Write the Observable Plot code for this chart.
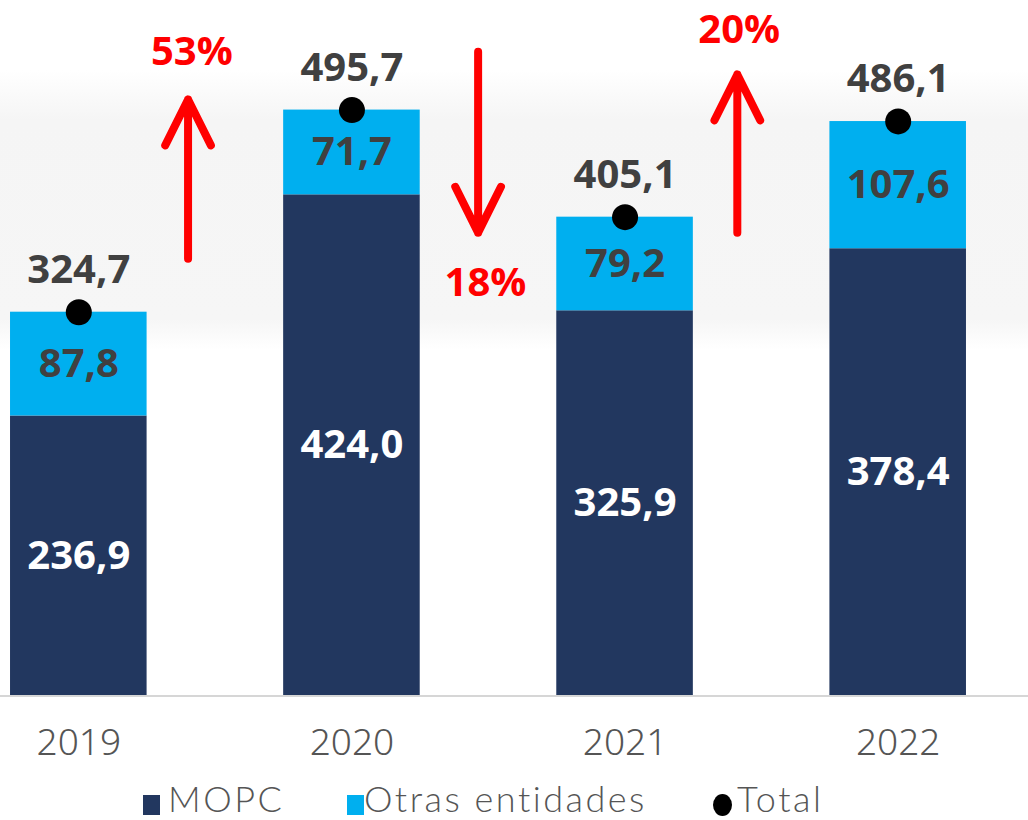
<!DOCTYPE html>
<html>
<head>
<meta charset="utf-8">
<script src="https://cdn.jsdelivr.net/npm/d3@7"></script>
<script src="https://cdn.jsdelivr.net/npm/@observablehq/plot@0.6"></script>
<style>
  html, body { margin: 0; padding: 0; width: 1028px; height: 820px; overflow: hidden; }
  body {
    position: relative;
    font-family: "Open Sans", Lato, sans-serif;
    background: linear-gradient(to bottom, #ffffff 0px, #ffffff 70px, #f5f5f5 120px, #f6f6f6 320px, #ffffff 350px, #ffffff 820px);
  }
  #chart { position: absolute; left: 0; top: 0; }
  #legend { position: absolute; left: 0; top: 777px; width: 1028px; height: 42px; }
  .item { position: absolute; top: 0; height: 42px; line-height: 42px; font-family: Lato, "Open Sans", sans-serif; font-size: 36px; letter-spacing: 2.5px; font-weight: 300; color: #555; white-space: nowrap; }
  .sw { position: absolute; }
</style>
</head>
<body>
<div id="chart"></div>
<div id="legend"></div>
<script>
// ---- data ----
const years = [2019, 2020, 2021, 2022];
const mopc = [236.9, 424.0, 325.9, 378.4];
const otras = [87.8, 71.7, 79.2, 107.6];
const totals = [324.7, 495.7, 405.1, 486.1];

// growth annotations (between years)
const changeLabels = ["53%", "18%", "20%"];
const arrowX = [2019.40, 2020.462, 2021.411];
const arrowFrom = [370, 545, 392];
const arrowTo = [504.6, 392, 525.8];
const changeLabelX = [2019.414, 2020.489, 2021.418];
const changeLabelY = [545, 349, 563];

const seriesNames = ["MOPC", "Otras entidades", "Total"];
const colors = {MOPC: "#22375F", "Otras entidades": "#00AFEF", Total: "#000000"};

// ---- tables ----
const rows = years.map((year, i) => ({year, mopc: mopc[i], otras: otras[i], total: totals[i]}));
const arrows = changeLabels.map((label, i) => ({label, x: arrowX[i], y1: arrowFrom[i], y2: arrowTo[i], lx: changeLabelX[i], ly: changeLabelY[i]}));

const fmt = v => v.toFixed(1).replace(".", ",");
const W = 1028, H = 777, baseY = 695.5, pxPerUnit = 1.182;
const half = 0.25;
const numStyle = {fontSize: 40, fontWeight: "bold", fontFamily: "Open Sans", letterSpacing: "2px"};

const chart = Plot.plot({
  width: W,
  height: H,
  marginTop: 0,
  marginBottom: H - baseY,
  marginLeft: 0,
  marginRight: 0,
  style: {background: "transparent", overflow: "visible"},
  x: {type: "linear", domain: [2019 - 78.3 / 273.1, 2022 + (W - 897.7) / 273.1], axis: null},
  y: {domain: [0, baseY / pxPerUnit], axis: null},
  marks: [
    Plot.rectY(rows, {x1: d => d.year - half, x2: d => d.year + half, y1: 0, y2: "mopc", fill: colors.MOPC}),
    Plot.rectY(rows, {x1: d => d.year - half, x2: d => d.year + half, y1: "mopc", y2: d => d.mopc + d.otras, fill: colors["Otras entidades"]}),
    Plot.ruleY([0], {stroke: "#d6d6d6", strokeWidth: 2}),
    Plot.axisX({ticks: years, tickFormat: d => String(d), tickSize: 0, tickPadding: 33, fontSize: 37, fontWeight: 300, fill: "#555", label: null}),
    Plot.text(rows, {x: "year", y: d => d.mopc / 2, text: d => fmt(d.mopc), fill: "white", ...numStyle}),
    Plot.text(rows, {x: "year", y: d => d.mopc + d.otras / 2, text: d => fmt(d.otras), fill: "#404040", ...numStyle}),
    Plot.dot(rows, {x: "year", y: "total", r: 13, fill: colors.Total}),
    Plot.text(rows, {x: "year", y: "total", dy: -42, text: d => fmt(d.total), fill: "#404040", ...numStyle}),
    Plot.arrow(arrows, {x: "x", y1: "y1", y2: "y2", stroke: "#FF0000", strokeWidth: 8, headLength: 9.6, headAngle: 53, strokeLinecap: "round", strokeLinejoin: "round"}),
    Plot.text(arrows, {x: "lx", y: "ly", text: "label", fill: "#FF0000", ...numStyle, letterSpacing: "3px"})
  ]
});
document.getElementById("chart").appendChild(chart);

// ---- legend ----
const legend = document.getElementById("legend");
const legendPos = [
  {name: seriesNames[0], sx: 143, tx: 168, shape: "square"},
  {name: seriesNames[1], sx: 347, tx: 364, shape: "square"},
  {name: seriesNames[2], sx: 713, tx: 737, shape: "circle"}
];
legendPos.forEach(p => {
  const sw = document.createElement("div");
  sw.className = "sw";
  sw.style.left = p.sx + "px";
  if (p.shape === "square") {
    sw.style.width = "17px"; sw.style.height = "20px"; sw.style.top = "18px";
  } else {
    sw.style.width = "19px"; sw.style.height = "22px"; sw.style.top = "17px"; sw.style.borderRadius = "50%";
  }
  sw.style.background = colors[p.name];
  legend.appendChild(sw);
  const t = document.createElement("div");
  t.className = "item";
  t.style.left = p.tx + "px";
  t.textContent = p.name;
  legend.appendChild(t);
});
</script>
</body>
</html>
